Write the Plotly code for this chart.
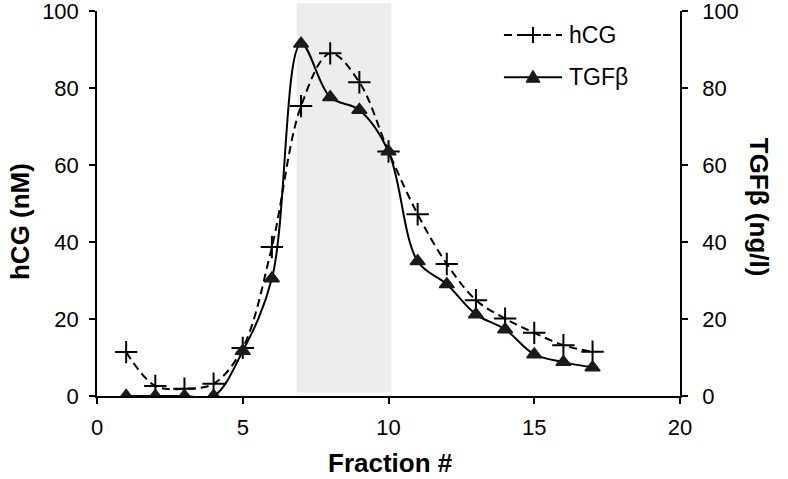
import plotly.graph_objects as go

# ---- data ----
fractions = list(range(1, 18))
hcg = [11.4, 2.6, 1.9, 3.2, 12.5, 38.7, 75.3, 89.0, 81.5, 63.5, 47.2, 34.3, 24.9, 20.1, 16.4, 13.2, 11.5]
tgfb = [0, 0, 0, 0, 11.7, 30.5, 91.5, 77.6, 74.3, 63.5, 35.0, 29.0, 21.2, 17.3, 10.8, 8.8, 7.4]
shade_range = [6.85, 10.1]
x_ticks = [0, 5, 10, 15, 20]
y_ticks = [0, 20, 40, 60, 80, 100]

FONT = "Liberation Sans, Arial, sans-serif"
INK = "#1a1a1a"

fig = go.Figure()

fig.add_trace(go.Scatter(
    x=fractions, y=hcg, name="hCG", mode="lines+markers",
    line=dict(color="black", width=2, dash="8px,5px", shape="spline", smoothing=1),
    marker=dict(symbol="cross-thin", size=16, line=dict(color="black", width=2)),
    showlegend=False,
))
fig.add_trace(go.Scatter(
    x=fractions, y=tgfb, name="TGFβ", mode="lines+markers", yaxis="y2",
    line=dict(color="black", width=2, shape="spline", smoothing=1),
    marker=dict(symbol="triangle-up", size=13, color=INK, line=dict(color=INK, width=1.5)),
    showlegend=False,
))

# shaded fraction window
fig.add_shape(type="rect", xref="x", yref="paper",
              x0=shade_range[0], x1=shade_range[1], y0=0.009, y1=1.02,
              fillcolor="#ededed", line=dict(width=0), layer="below")

# manual legend
L0, L1, MX = 0.698, 0.7976, 0.7479
R1, R2 = 0.9377, 0.828
fig.add_shape(type="line", xref="paper", yref="paper", x0=L0, x1=L1, y0=R1, y1=R1,
              line=dict(color="black", width=2, dash="8px,5px"))
fig.add_shape(type="path", xref="paper", yref="paper", xsizemode="pixel", ysizemode="pixel",
              xanchor=MX, yanchor=R1, path="M-8,0 H8 M0,-8 V8",
              line=dict(color="black", width=2))
fig.add_shape(type="line", xref="paper", yref="paper", x0=L0, x1=L1, y0=R2, y1=R2,
              line=dict(color="black", width=2))
fig.add_shape(type="path", xref="paper", yref="paper", xsizemode="pixel", ysizemode="pixel",
              xanchor=MX, yanchor=R2, path="M-7,-5 L7,-5 L0,7 Z",
              fillcolor=INK, line=dict(color=INK, width=1))

annos = [
    dict(text="hCG", x=0.806, y=R1, xanchor="left", yanchor="middle",
         font=dict(size=23, color="black")),
    dict(text="TGFβ", x=0.806, y=R2, xanchor="left", yanchor="middle",
         font=dict(size=23, color="black")),
    dict(text="<b>hCG (nM)</b>", x=-0.132, y=0.452, textangle=-90, xanchor="center", yanchor="middle",
         font=dict(size=26, color="black")),
    dict(text="<b>TGFβ (ng/l)</b>", x=1.1356, y=0.4914, textangle=90, xanchor="center", yanchor="middle",
         font=dict(size=26, color="black")),
    dict(text="<b>Fraction #</b>", x=0.503, y=-0.174, xanchor="center", yanchor="middle",
         font=dict(size=26, color="black")),
]
for a in annos:
    a.update(xref="paper", yref="paper", showarrow=False)
fig.update_layout(annotations=annos)

axis_common = dict(showline=True, linecolor="black", linewidth=1.5, ticks="outside",
                   ticklen=6, tickwidth=1.5, tickcolor="black", showgrid=False, zeroline=False,
                   tickfont=dict(size=22, color="black"), ticklabeloverflow="allow",
                   automargin=False)

fig.update_layout(
    width=788, height=479,
    margin=dict(l=97, r=108, t=11, b=83, autoexpand=False),
    paper_bgcolor="white", plot_bgcolor="white",
    font=dict(family=FONT, color="black"),
    xaxis=dict(range=[0, 20], tickvals=x_ticks, ticklabelstandoff=5, **axis_common),
    yaxis=dict(range=[0, 100], tickvals=y_ticks, ticklabelstandoff=6, **axis_common),
    yaxis2=dict(range=[0, 100], tickvals=y_ticks, overlaying="y", side="right",
                ticklabelstandoff=10, **axis_common),
    showlegend=False,
)

fig.write_html("out.html", config={"displayModeBar": False},
               post_script="document.body.style.margin='0px';")
